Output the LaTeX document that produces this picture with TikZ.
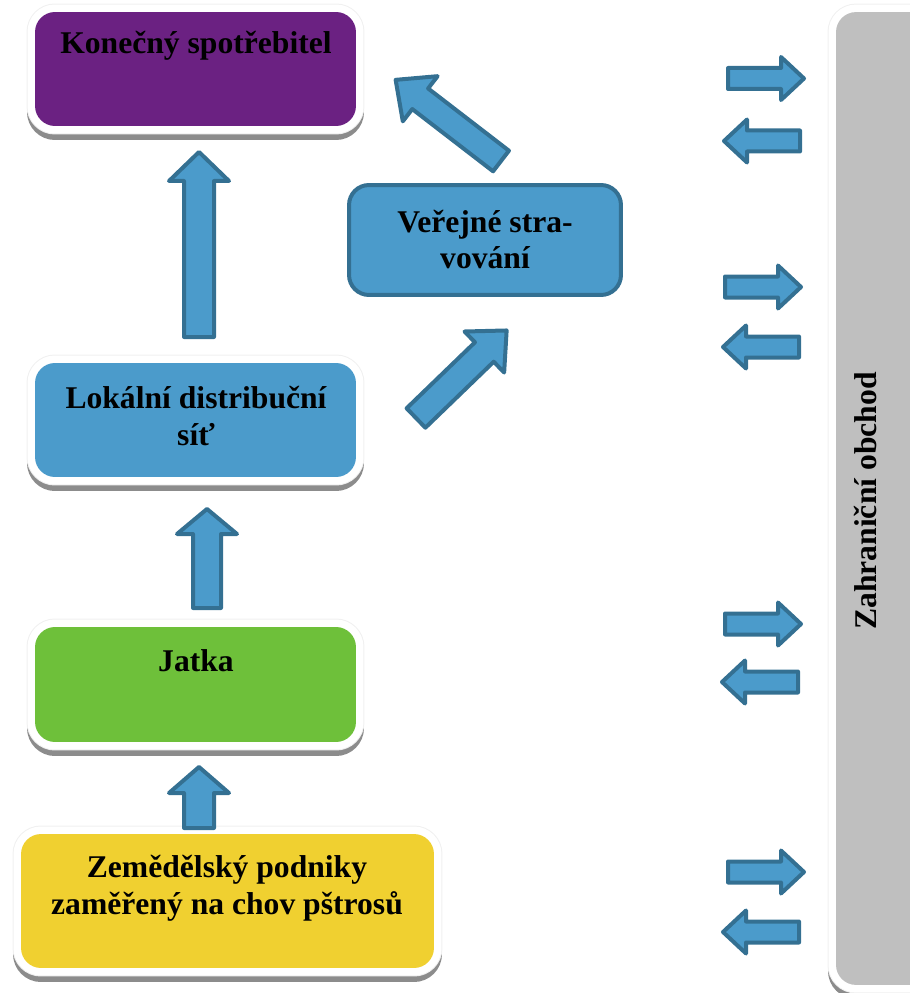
\documentclass[tikz,border=0pt]{standalone}
\usepackage{fontspec}
\setmainfont{Liberation Serif}

\definecolor{kpurple}{RGB}{107,33,130}
\definecolor{kblue}{RGB}{75,155,203}
\definecolor{kedge}{RGB}{52,112,146}
\definecolor{kgreen}{RGB}{110,192,58}
\definecolor{kyellow}{RGB}{240,208,48}
\definecolor{kgray}{RGB}{191,191,191}

\tikzset{
  rimbox/.style={rounded corners=0.4cm, inner sep=0pt,
    preaction={draw=black!45, line width=0.32cm, transform canvas={yshift=-0.12cm}},
    preaction={draw=black!6, line width=0.34cm},
    preaction={draw=white, line width=0.3cm}},
  lbl/.style={font=\bfseries\fontsize{18pt}{21pt}\selectfont, align=center, inner sep=0pt},
  arrowbox/.style={fill=kblue, draw=kedge, line width=0.08cm, line join=round},
  pics/blockarrow/.style n args={4}{code={
    \draw[arrowbox] (0,-#2) -- (#1-#4,-#2) -- (#1-#4,-#3) -- (#1,0) -- (#1-#4,#3) -- (#1-#4,#2) -- (0,#2) -- cycle;
  }}
}

\begin{document}
\begin{tikzpicture}[x=0.02cm,y=-0.02cm]
        \useasboundingbox (0,0) rectangle (909,993);
        % boxes
        \node[rimbox, fill=kgray, minimum width=2.88cm, minimum height=19.46cm] (zahrbox) at (908,498.5) {};
        \node[rimbox, fill=kpurple, minimum width=6.42cm, minimum height=2.28cm] (konbox) at (195.5,69) {};
        \node[rimbox, fill=kblue, minimum width=6.42cm, minimum height=2.28cm] (lokbox) at (195.5,420) {};
        \node[rimbox, fill=kgreen, minimum width=6.42cm, minimum height=2.3cm] (jatbox) at (195.5,684.5) {};
        \node[rimbox, fill=kyellow, minimum width=8.26cm, minimum height=2.68cm] (zembox) at (227.5,901) {};
        \node[fill=kblue, draw=kedge, line width=0.08cm, rounded corners=0.4cm, minimum width=5.44cm, minimum height=2.2cm] (verbox) at (485,240) {};
        % texts
        \node[lbl] (kon) at (196,45.5) {Konečný spotřebitel};
        \node[lbl] (lok) at (196,416) {Lokální distribuční\\síť};
        \node[lbl] (jat) at (196,661) {Jatka};
        \node[lbl] (zem) at (227,888) {Zemědělský podniky\\zaměřený na chov pštrosů};
        \node[lbl] (ver) at (485,239.5) {Veřejné stra-\\vování};
        \node[lbl, rotate=90] (zahr) at (865,501) {Zahraniční obchod};
        % flow arrows
        \pic[rotate=90] (a1) at (199,828) {blockarrow={61}{15}{30}{26}};
        \pic[rotate=90] (a2) at (207,608) {blockarrow={99}{14}{30}{25}};
        \pic[rotate=90] (a3) at (199,337) {blockarrow={185}{15}{30}{29}};
        \pic[rotate=44] (a4) at (416,418) {blockarrow={126}{13.5}{28.5}{31}};
        \pic[rotate=142.4] (a5) at (501,161) {blockarrow={133}{13}{28.5}{31}};
        % trade arrows
        \foreach \ry/\ly/\rx/\lx [count=\i] in {78.5/141/726/802, 287/347/723/801, 624/682/723/800, 872/932/726/801} {
            \pic (tr\i) at (\rx+2,\ry) {blockarrow={76}{10.5}{21.5}{23}};
            \pic[rotate=180] (tl\i) at (\lx-2,\ly) {blockarrow={76}{10.5}{21.5}{23}};
        }
\end{tikzpicture}
\end{document}
